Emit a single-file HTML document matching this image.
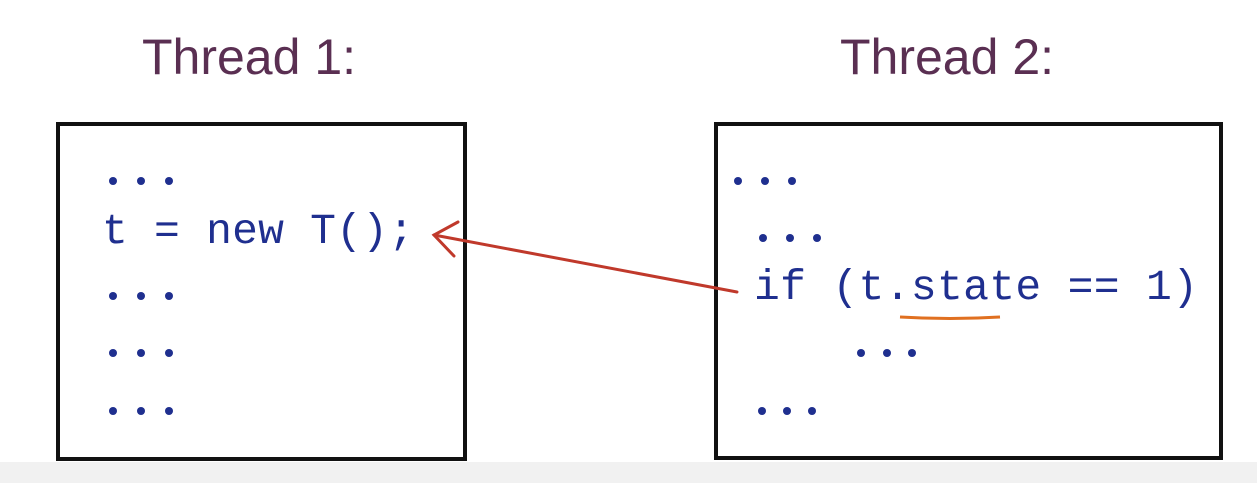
<!DOCTYPE html>
<html><head><style>html,body{margin:0;padding:0;background:#fff;}svg{display:block}</style></head>
<body>
<svg width="1257" height="483" viewBox="0 0 1257 483" xmlns="http://www.w3.org/2000/svg">
<rect x="0" y="0" width="1257" height="483" fill="#fff"/>
<rect x="0" y="462" width="1257" height="21" fill="#f1f1f1"/>
<g font-family="Liberation Sans, sans-serif" font-size="50" fill="#5a2f52">
<text x="142" y="74">Thread 1:</text>
<text x="840" y="74">Thread 2:</text>
</g>
<rect x="58" y="124" width="407" height="335" fill="none" stroke="#111" stroke-width="4"/>
<rect x="716" y="124" width="505" height="334" fill="none" stroke="#111" stroke-width="4"/>
<g font-family="Liberation Mono, monospace" font-size="43" fill="#1f2f8f">
<text x="102" y="243" textLength="312" lengthAdjust="spacing">t = new T();</text>
<text x="754" y="299" textLength="444" lengthAdjust="spacing">if (t.state == 1)</text>
</g>
<g fill="#1f2f8f">
<circle cx="113" cy="181" r="4"/><circle cx="141" cy="181" r="4"/><circle cx="169" cy="181" r="4"/>
<circle cx="113" cy="296" r="4"/><circle cx="141" cy="296" r="4"/><circle cx="169" cy="296" r="4"/>
<circle cx="113" cy="353" r="4"/><circle cx="141" cy="353" r="4"/><circle cx="169" cy="353" r="4"/>
<circle cx="113" cy="411" r="4"/><circle cx="141" cy="411" r="4"/><circle cx="169" cy="411" r="4"/>
<circle cx="738" cy="181" r="4"/><circle cx="765" cy="181" r="4"/><circle cx="792" cy="181" r="4"/>
<circle cx="763" cy="238" r="4"/><circle cx="790" cy="238" r="4"/><circle cx="817" cy="238" r="4"/>
<circle cx="861" cy="353" r="4"/><circle cx="887" cy="353" r="4"/><circle cx="912" cy="353" r="4"/>
<circle cx="762" cy="411" r="4"/><circle cx="787" cy="411" r="4"/><circle cx="812" cy="411" r="4"/>
</g>
<path d="M900 317 Q950 320 1000 317" stroke="#e07020" stroke-width="3" fill="none"/>
<g stroke="#c0392b" stroke-width="3" fill="none" stroke-linecap="round">
<line x1="737" y1="292" x2="434" y2="235"/>
<path d="M458 222 L434 235 L454 256"/>
</g>
</svg>
</body></html>
